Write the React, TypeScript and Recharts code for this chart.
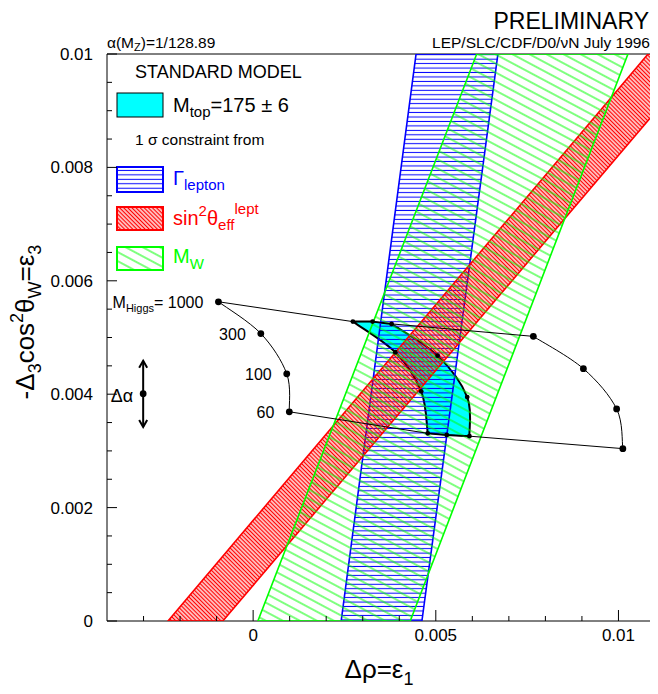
import React from "react";
import {
  ComposedChart,
  Scatter,
  XAxis,
  YAxis,
  ReferenceLine,
  Customized,
} from "recharts";

const FONT = "'Liberation Sans', Arial, Helvetica, sans-serif";

// axis ticks (minor ticks every 0.001 / 0.0005, labels on the major ones)
const xTicks = [-0.003, -0.002, -0.001, 0, 0.001, 0.002, 0.003, 0.004, 0.005, 0.006, 0.007, 0.008, 0.009, 0.01];
const xMajor = [0, 0.005, 0.01];
const xTickLabels = ["0", "0.005", "0.01"];
const yTicks = [
  0, 0.0005, 0.001, 0.0015, 0.002, 0.0025, 0.003, 0.0035, 0.004, 0.0045, 0.005,
  0.0055, 0.006, 0.0065, 0.007, 0.0075, 0.008, 0.0085, 0.009, 0.0095, 0.01,
];
const yMajor = [0, 0.002, 0.004, 0.006, 0.008, 0.01];
const yTickLabels = ["0", "0.002", "0.004", "0.006", "0.008", "0.01"];

// 1 sigma bands (polygon corners)
const leptonX = [0.00241, 0.00462, 0.0067, 0.00446];
const leptonY = [0, 0, 0.01, 0.01];
const sinEffX = [-0.00233, -0.00083, 0.011, 0.011, 0.01081];
const sinEffY = [0, 0, 0.00897, 0.01, 0.01];
const mwX = [0.00013, 0.0043, 0.01026, 0.00612];
const mwY = [0, 0, 0.01, 0.01];

// SM grid, Higgs masses along the curves
const higgsMasses = [1000, 300, 100, 60];
const lowTopX = [-0.00095, 0.00021, 0.00092, 0.00099];
const lowTopY = [0.00563, 0.00507, 0.00436, 0.00369];
const highTopX = [0.00767, 0.00904, 0.00995, 0.01012];
const highTopY = [0.00502, 0.00445, 0.00374, 0.00304];
// M_top = 169 / 181 curves, 175 at the ends
const mt169X = [0.00273, 0.00389, 0.0046, 0.00478];
const mt169Y = [0.00528, 0.00474, 0.00405, 0.00331];
const mt181X = [0.00379, 0.00505, 0.00586, 0.00592];
const mt181Y = [0.00524, 0.00468, 0.00395, 0.00326];
const mt175X = [0.00327, 0.0053];
const mt175Y = [0.00528, 0.00328];

// delta alpha arrow
const alphaX = -0.00301;
const alphaY = [0.00459, 0.00401, 0.00342];

type P = { x: number; y: number };
const zip = (xs: number[], ys: number[]) => xs.map((x, i) => ({ x, y: ys[i] }));

const lowTop = zip(lowTopX, lowTopY).map((p, i) => ({ ...p, mh: higgsMasses[i] }));
const highTop = zip(highTopX, highTopY);
const mt169 = zip(mt169X, mt169Y);
const mt181 = zip(mt181X, mt181Y);
const mt175 = zip(mt175X, mt175Y);
const topLine = [lowTop[0], mt169[0], mt175[0], mt181[0], highTop[0]];
const bottomLine = [lowTop[3], mt169[3], mt175[1], mt181[3], highTop[3]];
const cyanPts = [...mt169, mt175[1], ...mt181.slice().reverse(), mt175[0]];
const alphaPts = alphaY.map((y) => ({ x: alphaX, y }));

const smooth = (pts: P[]) => {
  let d = "";
  for (let i = 0; i < pts.length - 1; i++) {
    const p0 = pts[i - 1] || pts[i];
    const p1 = pts[i];
    const p2 = pts[i + 1];
    const p3 = pts[i + 2] || p2;
    d += `C${p1.x + (p2.x - p0.x) / 6},${p1.y + (p2.y - p0.y) / 6} ${p2.x - (p3.x - p1.x) / 6},${p2.y - (p3.y - p1.y) / 6} ${p2.x},${p2.y}`;
  }
  return d;
};
const poly = (pts: P[]) => pts.map((p, i) => `${i ? "L" : "M"}${p.x},${p.y}`).join("");

const emptyShape = () => <g />;

const bandLine = (fill: string, stroke: string) => (p: any) => (
  <path d={poly(p.points) + "Z"} fill={fill} stroke={stroke} strokeWidth={1.6} />
);

const cyanLine = (p: any) => {
  const pts: P[] = p.points;
  const d =
    `M${pts[0].x},${pts[0].y}` + smooth(pts.slice(0, 4)) +
    `L${pts[4].x},${pts[4].y}L${pts[5].x},${pts[5].y}` + smooth(pts.slice(5, 9)) +
    `L${pts[9].x},${pts[9].y}Z`;
  return <path d={d} fill="#00ffff" stroke="#000" strokeWidth={2} strokeLinejoin="round" />;
};

const curveLine = (p: any) => (
  <path d={`M${p.points[0].x},${p.points[0].y}` + smooth(p.points)} fill="none" stroke="#000" strokeWidth={1} />
);
const straightLine = (p: any) => <path d={poly(p.points)} fill="none" stroke="#000" strokeWidth={1} />;

const bigDot = (p: any) => <circle cx={p.cx} cy={p.cy} r={3.4} fill="#000" />;
const smallDot = (p: any) => <circle cx={p.cx} cy={p.cy} r={2.4} fill="#000" />;

const higgsDot = (p: any) => {
  const mh = p.payload.mh;
  return (
    <g>
      <circle cx={p.cx} cy={p.cy} r={3.4} fill="#000" />
      <text x={p.cx - 15} y={p.cy + 6} textAnchor="end" fontSize={16} fontFamily={FONT}>
        {mh === 1000 ? (
          <>
            <tspan>M</tspan>
            <tspan fontSize={11} dy={4}>Higgs</tspan>
            <tspan dy={-4}>= 1000</tspan>
          </>
        ) : (
          String(mh)
        )}
      </text>
    </g>
  );
};

const alphaShape = (p: any) => {
  const { cx, cy } = p;
  const y = p.payload.y;
  if (y === alphaY[1]) {
    return (
      <g>
        <circle cx={cx} cy={cy} r={3.4} fill="#000" />
        <text x={cx - 10} y={cy + 8} textAnchor="end" fontSize={18} fontFamily={FONT}>Δα</text>
      </g>
    );
  }
  const s = y > alphaY[1] ? 1 : -1;
  return <path d={`M${cx - 4},${cy + 7 * s}L${cx},${cy}L${cx + 4},${cy + 7 * s}`} fill="none" stroke="#000" strokeWidth={2} />;
};

const XTick = (p: any) => {
  const v = p.payload.value;
  const i = xMajor.findIndex((m) => Math.abs(m - v) < 1e-9);
  return (
    <g>
      <line x1={p.x} x2={p.x} y1={p.y} y2={p.y - (i >= 0 ? 11 : 5)} stroke="#000" />
      {i >= 0 && (
        <text x={p.x} y={p.y + 20} textAnchor="middle" fontSize={17} fontFamily={FONT}>
          {xTickLabels[i]}
        </text>
      )}
    </g>
  );
};

const YTick = (p: any) => {
  const v = p.payload.value;
  const i = yMajor.findIndex((m) => Math.abs(m - v) < 1e-9);
  return (
    <g>
      <line x1={p.x} x2={p.x + (i >= 0 ? 10 : 5)} y1={p.y} y2={p.y} stroke="#000" />
      {i >= 0 && (
        <text x={p.x - 14} y={p.y + 6} textAnchor="end" fontSize={17} fontFamily={FONT}>
          {yTickLabels[i]}
        </text>
      )}
    </g>
  );
};

const Patterns = () => (
  <defs>
    <pattern id="hLepton" patternUnits="userSpaceOnUse" width={10} height={4.45}>
      <path d="M0 2.2H10" stroke="#0000ff" strokeWidth={1} />
    </pattern>
    <pattern id="hSin" patternUnits="userSpaceOnUse" width={10} height={2.9} patternTransform="rotate(45)">
      <path d="M0 1.45H10" stroke="#ff0000" strokeWidth={1.5} />
    </pattern>
    <pattern id="hMw" patternUnits="userSpaceOnUse" width={10} height={8} patternTransform="rotate(28)">
      <path d="M0 4H10" stroke="#00ff00" strokeWidth={1} />
    </pattern>
  </defs>
);

const Decor = () => (
  <g fontFamily={FONT}>
    <text x={641} y={21} textAnchor="end" fontSize={23}>PRELIMINARY</text>
    <text x={642} y={40} textAnchor="end" fontSize={15.5}>LEP/SLC/CDF/D0/νN July 1996</text>
    <text x={99} y={40} fontSize={15.5}>
      α(M<tspan fontSize={11} dy={3}>Z</tspan>
      <tspan dy={-3}>)=1/128.89</tspan>
    </text>

    <text x={127} y={69.5} fontSize={18}>STANDARD MODEL</text>
    <rect x={109} y={85} width={46} height={24} fill="#00ffff" stroke="#000" strokeWidth={1} />
    <text x={165} y={104} fontSize={20}>
      M<tspan fontSize={15} dy={5}>top</tspan>
      <tspan dy={-5}>=175 ± 6</tspan>
    </text>
    <text x={127} y={137} fontSize={15.5}>1 σ constraint from</text>

    <rect x={109} y={159} width={46} height={25} fill="url(#hLepton)" stroke="#0000ff" strokeWidth={2} />
    <text x={165} y={177} fontSize={20} fill="#0000ff">
      Γ<tspan fontSize={15} dy={5}>lepton</tspan>
    </text>

    <rect x={109} y={199} width={46} height={23} fill="url(#hSin)" stroke="#ff0000" strokeWidth={2} />
    <text x={165} y={217} fontSize={20} fill="#ff0000">
      sin<tspan fontSize={15} dy={-9}>2</tspan>
      <tspan dy={9}>θ</tspan>
      <tspan fontSize={15} dy={5}>eff</tspan>
      <tspan fontSize={15} dy={-16}>lept</tspan>
    </text>

    <rect x={109} y={239} width={46} height={23} fill="url(#hMw)" stroke="#00ff00" strokeWidth={2} />
    <text x={165} y={255} fontSize={20} fill="#00ff00">
      M<tspan fontSize={15} dy={6}>W</tspan>
    </text>

    <text x={371} y={670} textAnchor="middle" fontSize={26}>
      Δρ=ε<tspan fontSize={18} dy={7}>1</tspan>
    </text>
    <text x={26} y={314} transform="rotate(-90 26 314)" textAnchor="middle" fontSize={26}>
      -Δ<tspan fontSize={18} dy={7}>3</tspan>
      <tspan dy={-7}>cos</tspan>
      <tspan fontSize={18} dy={-11}>2</tspan>
      <tspan dy={11}>θ</tspan>
      <tspan fontSize={18} dy={7}>W</tspan>
      <tspan dy={-7}>=ε</tspan>
      <tspan fontSize={18} dy={7}>3</tspan>
    </text>
  </g>
);

export default function App() {
  return (
    <ComposedChart
      width={650}
      height={686}
      margin={{ top: 46, right: 3, bottom: 0, left: 0 }}
      style={{ fontFamily: FONT }}
    >
      <Customized component={<Patterns />} />
      <XAxis
        type="number"
        dataKey="x"
        domain={[-0.004, 0.011]}
        ticks={xTicks}
        interval={0}
        height={73}
        tickSize={0}
        tickMargin={0}
        tickLine={false}
        axisLine={{ stroke: "#000" }}
        tick={XTick}
        allowDataOverflow
      />
      <YAxis
        type="number"
        dataKey="y"
        domain={[0, 0.01]}
        ticks={yTicks}
        interval={0}
        width={99}
        tickSize={0}
        tickMargin={0}
        tickLine={false}
        axisLine={{ stroke: "#000" }}
        tick={YTick}
        allowDataOverflow
      />
      <Scatter data={cyanPts} shape={emptyShape} line={cyanLine} isAnimationActive={false} />
      <Scatter data={zip(leptonX, leptonY)} shape={emptyShape} line={bandLine("url(#hLepton)", "#0000ff")} isAnimationActive={false} />
      <Scatter data={zip(sinEffX, sinEffY)} shape={emptyShape} line={bandLine("url(#hSin)", "#ff0000")} isAnimationActive={false} />
      <Scatter data={zip(mwX, mwY)} shape={emptyShape} line={bandLine("url(#hMw)", "#00ff00")} isAnimationActive={false} />
      <Scatter data={topLine} shape={emptyShape} line={straightLine} isAnimationActive={false} />
      <Scatter data={bottomLine} shape={emptyShape} line={straightLine} isAnimationActive={false} />
      <Scatter data={lowTop} shape={higgsDot} line={curveLine} isAnimationActive={false} />
      <Scatter data={highTop} shape={bigDot} line={curveLine} isAnimationActive={false} />
      <Scatter data={[...mt169, ...mt181, ...mt175]} shape={smallDot} isAnimationActive={false} />
      <Scatter data={alphaPts} shape={alphaShape} line={{ stroke: "#000", strokeWidth: 2 }} isAnimationActive={false} />
      <ReferenceLine y={0.01} stroke="#000" strokeWidth={1} />
      <ReferenceLine x={0.011} stroke="#000" strokeWidth={1} />
      <Customized component={<Decor />} />
    </ComposedChart>
  );
}
